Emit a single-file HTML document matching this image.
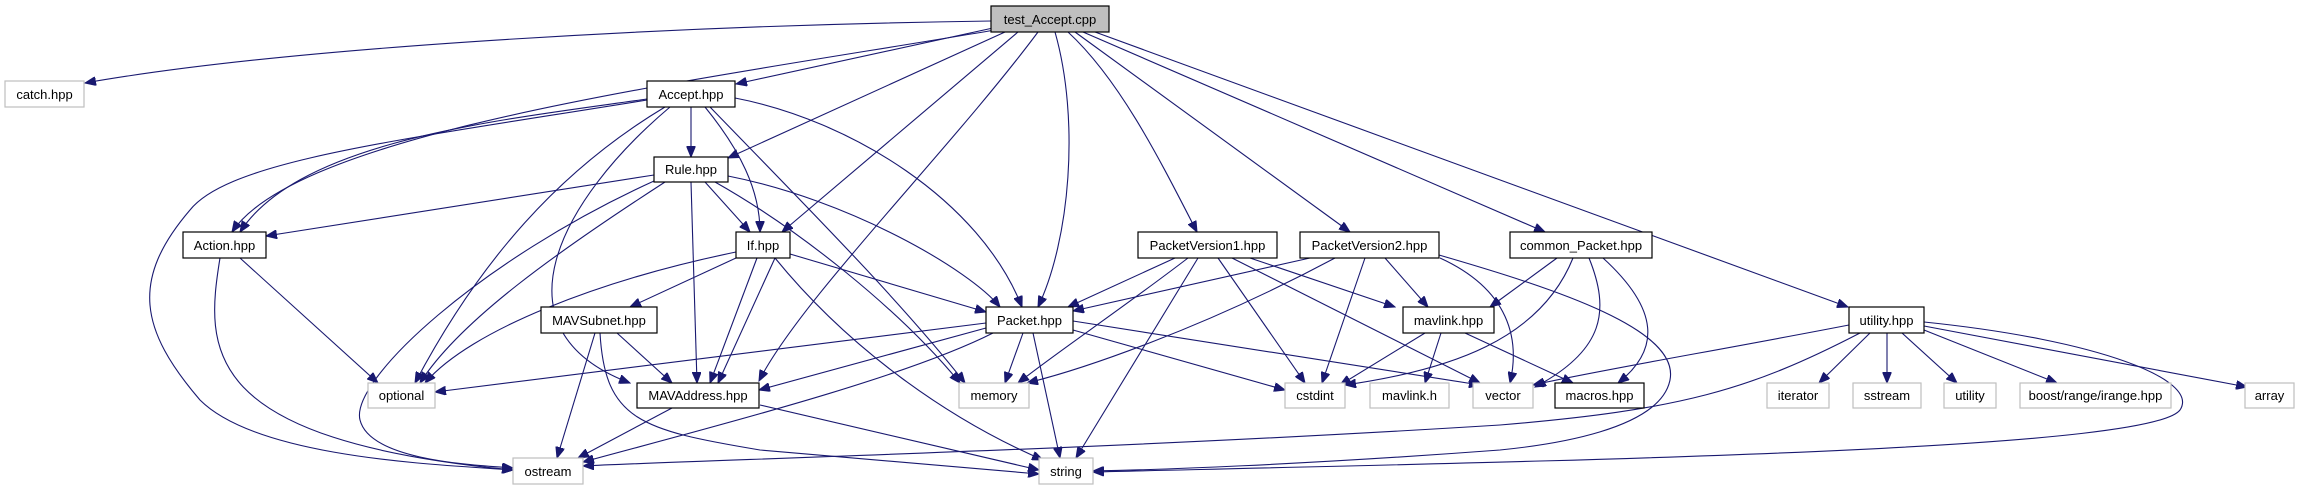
<!DOCTYPE html>
<html><head><meta charset="utf-8"><style>
html,body{margin:0;padding:0;background:#fff;}
svg{display:block;}
text{font-family:"Liberation Sans",Arial,sans-serif;font-size:13px;fill:#000;}
</style></head><body>
<svg width="2317" height="485" viewBox="0 0 2317 485" xmlns="http://www.w3.org/2000/svg">
<defs>
<marker id="a" markerWidth="12" markerHeight="9" refX="11" refY="4.5" orient="auto" markerUnits="userSpaceOnUse">
<path d="M0,0 L11,4.5 L0,9 z" fill="#191970" stroke="#191970"/>
</marker>
</defs>
<g fill="none" stroke="#191970" stroke-width="1.1" marker-end="url(#a)">
<path d="M991,21 C700,25 300,45 85,83"/>
<path d="M993,28 L736,84"/>
<path d="M995,30 C700,80 300,130 232,232"/>
<path d="M1005,32 L728,158"/>
<path d="M1018,32 L782,232"/>
<path d="M1038,32 C950,150 800,300 759,381"/>
<path d="M1055,32 C1080,120 1070,240 1038,307"/>
<path d="M1068,32 C1120,80 1160,160 1197,232"/>
<path d="M1075,32 L1350,232"/>
<path d="M1083,32 L1545,232"/>
<path d="M1095,32 L1848,307"/>
<path d="M691,107 L691,157"/>
<path d="M647,99 C500,120 300,140 240,232"/>
<path d="M647,100 C400,140 230,160 190,210 C130,280 140,330 200,400 C260,460 450,465 513,470"/>
<path d="M665,107 C560,170 480,260 415,383"/>
<path d="M670,107 C560,200 490,330 630,383"/>
<path d="M710,107 C800,200 900,300 965,383"/>
<path d="M705,107 C740,150 760,190 760,232"/>
<path d="M735,98 C850,120 980,200 1022,307"/>
<path d="M654,175 L266,236"/>
<path d="M654,181 C480,260 350,380 360,420 C370,460 470,465 513,468"/>
<path d="M665,182 C560,250 460,320 420,383"/>
<path d="M691,182 L697,383"/>
<path d="M705,182 L750,232"/>
<path d="M715,182 C800,230 900,310 960,383"/>
<path d="M728,176 C850,200 970,270 1000,307"/>
<path d="M736,252 C600,280 470,330 425,383"/>
<path d="M736,258 L630,307"/>
<path d="M757,258 L710,383"/>
<path d="M775,258 L718,383"/>
<path d="M790,254 L986,312"/>
<path d="M775,258 C850,350 950,420 1043,460"/>
<path d="M240,258 L378,383"/>
<path d="M220,258 C205,350 200,440 513,470"/>
<path d="M595,333 L557,458"/>
<path d="M617,333 L672,383"/>
<path d="M600,333 C605,420 640,430 760,450 L1039,474"/>
<path d="M672,408 L578,458"/>
<path d="M760,405 L1039,470"/>
<path d="M986,323 L435,392"/>
<path d="M986,328 L759,390"/>
<path d="M993,333 C900,380 700,430 583,462"/>
<path d="M1023,333 L1005,383"/>
<path d="M1033,333 L1060,458"/>
<path d="M1073,330 L1285,390"/>
<path d="M1073,321 L1480,385"/>
<path d="M1175,258 L1068,307"/>
<path d="M1188,258 C1120,310 1060,350 1018,383"/>
<path d="M1198,258 L1076,458"/>
<path d="M1218,258 L1305,383"/>
<path d="M1232,258 L1480,383"/>
<path d="M1250,258 L1395,307"/>
<path d="M1310,258 L1073,311"/>
<path d="M1335,258 C1200,330 1080,370 1027,383"/>
<path d="M1365,258 L1322,383"/>
<path d="M1385,258 L1428,307"/>
<path d="M1440,258 C1510,290 1520,340 1510,383"/>
<path d="M1439,255 C1560,290 1680,330 1670,380 C1660,430 1550,445 1500,450 C1300,465 1150,470 1093,471"/>
<path d="M1557,258 L1490,307"/>
<path d="M1573,258 C1540,340 1450,370 1345,385"/>
<path d="M1589,258 C1610,310 1605,350 1535,387"/>
<path d="M1603,258 C1660,310 1660,350 1618,383"/>
<path d="M1425,333 L1340,385"/>
<path d="M1441,333 L1425,383"/>
<path d="M1465,333 L1573,383"/>
<path d="M1849,325 C1720,350 1600,370 1533,385"/>
<path d="M1860,333 C1750,390 1680,410 1500,425 C1100,450 700,460 583,466"/>
<path d="M1870,333 L1819,383"/>
<path d="M1887,333 L1887,383"/>
<path d="M1902,333 L1957,383"/>
<path d="M1924,330 L2057,383"/>
<path d="M1924,326 L2247,387"/>
<path d="M1924,322 C2100,340 2200,380 2180,410 C2150,450 1600,460 1093,472"/>
</g>
<g stroke-width="1.2">
<!-- documented nodes -->
<g fill="#fff" stroke="#000">
<rect x="647" y="81" width="88" height="26"/>
<rect x="654" y="157" width="74" height="25"/>
<rect x="183" y="232" width="83" height="26"/>
<rect x="736" y="232" width="54" height="26"/>
<rect x="541" y="307" width="116" height="26"/>
<rect x="637" y="383" width="122" height="25"/>
<rect x="1138" y="232" width="139" height="26"/>
<rect x="1300" y="232" width="139" height="26"/>
<rect x="1510" y="232" width="142" height="26"/>
<rect x="986" y="307" width="87" height="26"/>
<rect x="1403" y="307" width="91" height="26"/>
<rect x="1849" y="307" width="75" height="26"/>
<rect x="1555" y="383" width="89" height="25"/>
</g>
<rect x="991" y="6" width="118" height="26" fill="#bfbfbf" stroke="#000"/>
<g fill="#fff" stroke="#bfbfbf">
<rect x="5" y="81" width="79" height="26"/>
<rect x="368" y="383" width="67" height="25"/>
<rect x="513" y="458" width="70" height="26"/>
<rect x="959" y="383" width="70" height="25"/>
<rect x="1285" y="383" width="60" height="25"/>
<rect x="1370" y="383" width="79" height="25"/>
<rect x="1473" y="383" width="60" height="25"/>
<rect x="1039" y="458" width="54" height="26"/>
<rect x="1767" y="383" width="62" height="25"/>
<rect x="1853" y="383" width="68" height="25"/>
<rect x="1944" y="383" width="52" height="25"/>
<rect x="2020" y="383" width="151" height="25"/>
<rect x="2245" y="383" width="49" height="25"/>
</g>
</g>
<g text-anchor="middle">
<text x="1050" y="24">test_Accept.cpp</text>
<text x="44.5" y="99">catch.hpp</text>
<text x="691" y="99">Accept.hpp</text>
<text x="691" y="174">Rule.hpp</text>
<text x="224.5" y="250">Action.hpp</text>
<text x="763" y="250">If.hpp</text>
<text x="599" y="325">MAVSubnet.hpp</text>
<text x="698" y="400">MAVAddress.hpp</text>
<text x="401.5" y="400">optional</text>
<text x="548" y="476">ostream</text>
<text x="1207.5" y="250">PacketVersion1.hpp</text>
<text x="1369.5" y="250">PacketVersion2.hpp</text>
<text x="1581" y="250">common_Packet.hpp</text>
<text x="1029.5" y="325">Packet.hpp</text>
<text x="1448.5" y="325">mavlink.hpp</text>
<text x="1886.5" y="325">utility.hpp</text>
<text x="994" y="400">memory</text>
<text x="1315" y="400">cstdint</text>
<text x="1409.5" y="400">mavlink.h</text>
<text x="1503" y="400">vector</text>
<text x="1599.5" y="400">macros.hpp</text>
<text x="1066" y="476">string</text>
<text x="1798" y="400">iterator</text>
<text x="1887" y="400">sstream</text>
<text x="1970" y="400">utility</text>
<text x="2095.5" y="400">boost/range/irange.hpp</text>
<text x="2269.5" y="400">array</text>
</g>
</svg>
</body></html>
